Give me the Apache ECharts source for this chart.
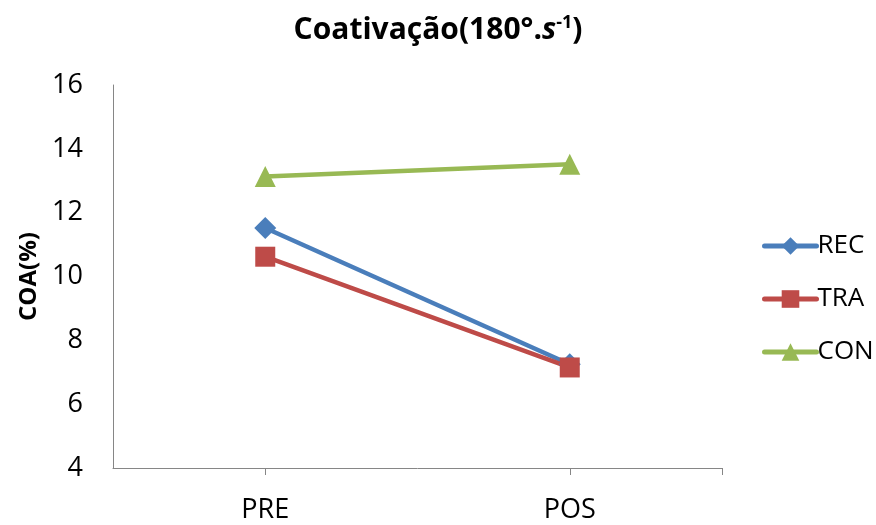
<!DOCTYPE html>
<html>
<head>
<meta charset="utf-8">
<script src="https://cdn.jsdelivr.net/npm/echarts@6/dist/echarts.min.js"></script>
<style>
  html, body { margin: 0; padding: 0; background: #fff; }
  #chart { width: 876px; height: 525px; }
</style>
</head>
<body>
<div id="chart"></div>
<script>
// Coactivation (%) at 180°/s, before and after, per group
var categories = ['PRE', 'POS'];
var recValues = [11.52, 7.25];
var traValues = [10.62, 7.15];
var conValues = [13.13, 13.52];
var yTicks = { min: 4, max: 16, step: 2 };

var FONT = '"Open Sans", "Noto Sans", sans-serif';
var AXIS_GREY = '#868686';

var chart = echarts.init(document.getElementById('chart'));

function lineSeries(name, data, color, symbol, size) {
  return {
    name: name,
    type: 'line',
    data: data,
    symbol: symbol,
    symbolSize: size,
    lineStyle: { color: color, width: 4.5, cap: 'round' },
    itemStyle: { color: color },
    animation: false
  };
}

chart.setOption({
  backgroundColor: '#fff',
  title: {
    text: '{t|Coativação(180°.}{s|s}{sup|-1}{t|)}',
    left: 'center',
    top: 9,
    textStyle: {
      rich: {
        t: { fontFamily: FONT, fontWeight: 'bold', fontSize: 30, color: '#000' },
        s: { fontFamily: FONT, fontWeight: 'bold', fontStyle: 'italic', fontSize: 30, color: '#000' },
        sup: { fontFamily: FONT, fontWeight: 'bold', fontSize: 18, color: '#000', verticalAlign: 'top', padding: [0, 0, 14, 0] }
      }
    }
  },
  grid: { left: 113, top: 85, right: 154, bottom: 57, containLabel: false },
  legend: {
    orient: 'vertical',
    left: 757,
    top: 228,
    itemWidth: 52,
    itemHeight: 22,
    itemGap: 27,
    data: ['REC', 'TRA', 'CON'],
    lineStyle: { width: 5, cap: 'round' },
    textStyle: { fontFamily: FONT, fontSize: 26, color: '#000', padding: [0, 0, 0, -4] }
  },
  xAxis: [{
    type: 'category',
    data: categories,
    boundaryGap: true,
    axisLine: { lineStyle: { color: AXIS_GREY, width: 1 } },
    axisTick: { show: false },
    axisLabel: { fontFamily: FONT, fontSize: 27, color: '#000', margin: 29 },
    splitLine: { show: false }
  }, {
    // carries the tick marks under each category and at the axis end
    type: 'value',
    position: 'bottom',
    min: -0.5,
    max: 1.5,
    axisLine: { show: false },
    axisLabel: { show: false },
    splitLine: { show: false },
    axisTick: { show: true, length: 7, customValues: [0, 1, 1.5], lineStyle: { color: AXIS_GREY } }
  }],
  yAxis: {
    type: 'value',
    min: yTicks.min,
    max: yTicks.max,
    interval: yTicks.step,
    name: 'COA(%)',
    nameLocation: 'middle',
    nameGap: 71,
    nameTextStyle: { fontFamily: FONT, fontWeight: 'bold', fontSize: 24, color: '#000' },
    axisLine: { show: true, onZero: false, lineStyle: { color: AXIS_GREY, width: 1 } },
    axisTick: { show: false },
    axisLabel: { fontFamily: FONT, fontSize: 27, color: '#000', margin: 30 },
    splitLine: { show: false }
  },
  series: [
    lineSeries('REC', recValues, '#4A7EBB', 'diamond', 22),
    lineSeries('TRA', traValues, '#BE4B48', 'rect', 20),
    lineSeries('CON', conValues, '#98B954', 'triangle', 21)
  ]
});
</script>
</body>
</html>
